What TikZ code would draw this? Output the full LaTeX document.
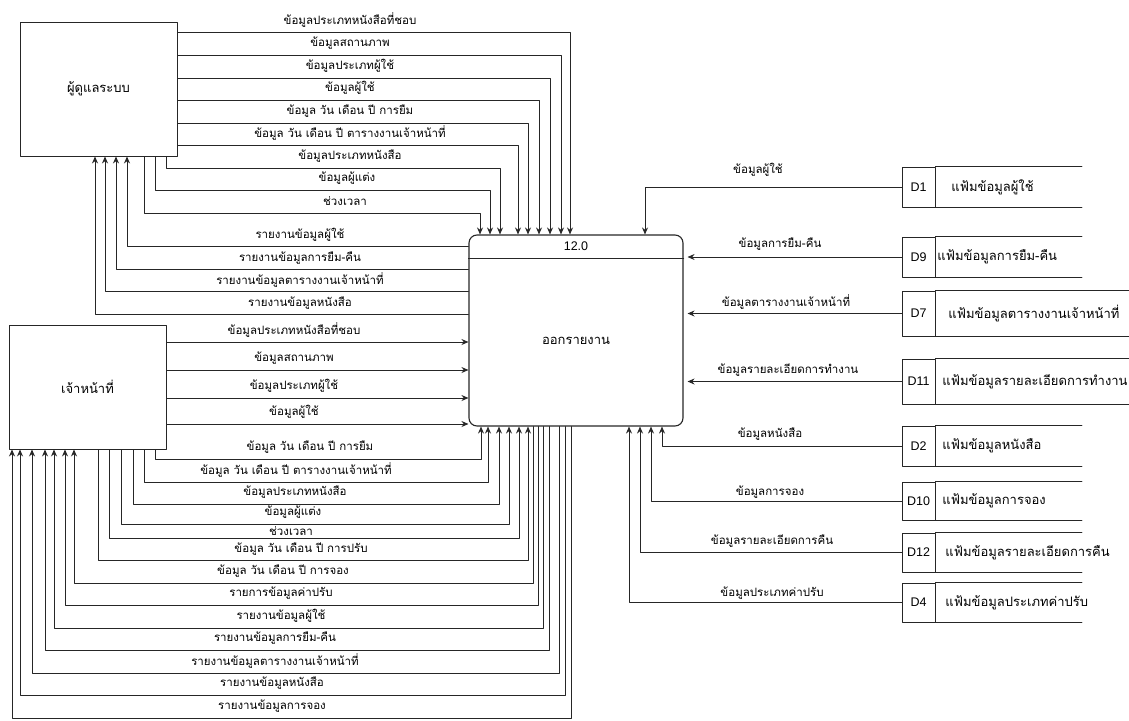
\documentclass[tikz,border=0pt]{standalone}
\usepackage{fontspec}
\setmainfont{Liberation Sans}
\newfontfamily\thaifont[Script=Thai]{Loma}
\usetikzlibrary{arrows.meta}

\begin{document}
\begin{tikzpicture}[line cap=round,line join=round,>={Stealth[length=7pt,width=6pt]},x=1pt,y=-1pt,
  box/.style={draw=black!85,line width=0.9pt,inner sep=0pt,font=\thaifont\fontsize{13}{15}\selectfont},
  flow/.style={draw=black!85,line width=0.9pt},
  lbl/.style={inner sep=0pt,font=\thaifont\fontsize{11.5}{13}\selectfont},
  sid/.style={draw=black!85,line width=0.9pt,inner sep=0pt,minimum width=33pt,font=\fontsize{12.5}{14}\selectfont}]
        % \draw[help lines,step=10] (0,0) grid (1129,720);
        \useasboundingbox (0,0) rectangle (1129,720);
        \node[box,minimum width=157pt,minimum height=134pt] (admin) at (98.5,89) {ผู้ดูแลระบบ};
        \node[box,minimum width=157pt,minimum height=124pt] (staff) at (87.5,387) {เจ้าหน้าที่};
        \node[box,rounded corners=8pt,minimum width=214pt,minimum height=191pt,line width=1.1pt] (proc) at (576,330.5) {};
        \node[inner sep=0pt,font=\fontsize{12.5}{14}\selectfont] (pid) at (576,246) {12.0};
        \node[box,draw=none] (pname) at (576,341) {ออกรายงาน};
        \draw[flow] (proc.west |- 0,258) -- (proc.east |- 0,258);
        \foreach \y/\x/\t [count=\i] in {32/570/{ข้อมูลประเภทหนังสือที่ชอบ},55/561/{ข้อมูลสถานภาพ},78/550/{ข้อมูลประเภทผู้ใช้},100/539/{ข้อมูลผู้ใช้},123/528/{ข้อมูล วัน เดือน ปี การยืม},145/518/{ข้อมูล วัน เดือน ปี ตารางงานเจ้าหน้าที่}}
        {
        \draw[flow,->] (admin.east |- 0,\y) -| (proc.north -| \x,0);
        \node[lbl] (ain\i) at (350,\y-12) {\t};
        }
        \foreach \s/\y/\x/\lx/\t [count=\i] in {166/168/500/350/{ข้อมูลประเภทหนังสือ},155/190/490/347/{ข้อมูลผู้แต่ง},144/213/480/345/{ช่วงเวลา}}
        {
        \draw[flow,->] (admin.south -| \s,0) |- (\x,\y) -- (proc.north -| \x,0);
        \node[lbl] (aout\i) at (\lx,\y-12) {\t};
        }
        \foreach \y/\x/\t [count=\i] in {246/127/{รายงานข้อมูลผู้ใช้},269/116/{รายงานข้อมูลการยืม-คืน},291/105/{รายงานข้อมูลตารางงานเจ้าหน้าที่},314/95/{รายงานข้อมูลหนังสือ}}
        {
        \draw[flow,->] (proc.west |- 0,\y) -| (admin.south -| \x,0);
        \node[lbl] (arep\i) at (300,\y-11) {\t};
        }
        \foreach \y/\t [count=\i] in {342/{ข้อมูลประเภทหนังสือที่ชอบ},370/{ข้อมูลสถานภาพ},398/{ข้อมูลประเภทผู้ใช้},424/{ข้อมูลผู้ใช้}}
        {
        \draw[flow,->] (staff.east |- 0,\y) -- (proc.west |- 0,\y);
        \node[lbl] (sin\i) at (294,\y-12) {\t};
        }
        \foreach \s/\y/\x/\lx/\ly/\t [count=\i] in {155/459/481/310/447/{ข้อมูล วัน เดือน ปี การยืม},144/482/488/296/470/{ข้อมูล วัน เดือน ปี ตารางงานเจ้าหน้าที่},133/504/499/295/492/{ข้อมูลประเภทหนังสือ},121/524/509/293/512/{ข้อมูลผู้แต่ง},109/538/519/291/531/{ช่วงเวลา},98/560/528/301/549/{ข้อมูล วัน เดือน ปี การปรับ}}
        {
        \draw[flow,->] (staff.south -| \s,0) |- (\x,\y) -- (proc.south -| \x,0);
        \node[lbl] (sout\i) at (\lx,\ly) {\t};
        }
        \foreach \x/\y/\s/\lx/\t [count=\i] in {533/583/74/283/{ข้อมูล วัน เดือน ปี การจอง},538/605/65/281/{รายการข้อมูลค่าปรับ},543/628/54/281/{รายงานข้อมูลผู้ใช้},549/650/45/275/{รายงานข้อมูลการยืม-คืน},559/673/32/275/{รายงานข้อมูลตารางงานเจ้าหน้าที่},565/695/20/272/{รายงานข้อมูลหนังสือ},571/718/12/272/{รายงานข้อมูลการจอง}}
        {
        \draw[flow,->] (proc.south -| \x,0) |- (\s,\y) -- (staff.south -| \s,0);
        \node[lbl] (srep\i) at (\lx,\y-12) {\t};
        }
        \foreach \n/\y/\h/\r/\tx/\t [count=\i] in {D1/187/40/1082/951/{แฟ้มข้อมูลผู้ใช้},D9/257/40/1082/937/{แฟ้มข้อมูลการยืม-คืน},D7/313.5/45/1129/948/{แฟ้มข้อมูลตารางงานเจ้าหน้าที่},D11/381.5/45/1129/942/{แฟ้มข้อมูลรายละเอียดการทำงาน},D2/446/40/1082/942/{แฟ้มข้อมูลหนังสือ},D10/501/38/1082/942/{แฟ้มข้อมูลการจอง},D12/552.5/39/1082/945/{แฟ้มข้อมูลรายละเอียดการคืน},D4/602.5/39/1082/945/{แฟ้มข้อมูลประเภทค่าปรับ}}
        {
        \node[sid,minimum height=\h*1pt] (st\i) at (918.5,\y) {\n};
        \draw[flow] (st\i.north east) -- (st\i.north east -| \r,0) (st\i.south east) -- (st\i.south east -| \r,0);
        \node[box,draw=none,anchor=west] (stn\i) at (\tx,\y) {\t};
        }
        \draw[flow,->] (st1.west) -| (proc.north -| 645,0);
        \foreach \i in {2,3,4}
        \draw[flow,->,shorten >=4pt] (st\i.west) -- (proc.east |- st\i.west);
        \foreach \i/\x in {5/662,6/651,7/640,8/629}
        \draw[flow,->] (st\i.west) -| (proc.south -| \x,0);
        \foreach \x/\y/\t [count=\i] in {758/170/{ข้อมูลผู้ใช้},780/244/{ข้อมูลการยืม-คืน},786/302/{ข้อมูลตารางงานเจ้าหน้าที่},788/370/{ข้อมูลรายละเอียดการทำงาน},770/434/{ข้อมูลหนังสือ},770/492/{ข้อมูลการจอง},772/541/{ข้อมูลรายละเอียดการคืน},772/593/{ข้อมูลประเภทค่าปรับ}}
        \node[lbl] (dl\i) at (\x,\y) {\t};
      \end{tikzpicture}
\end{document}
